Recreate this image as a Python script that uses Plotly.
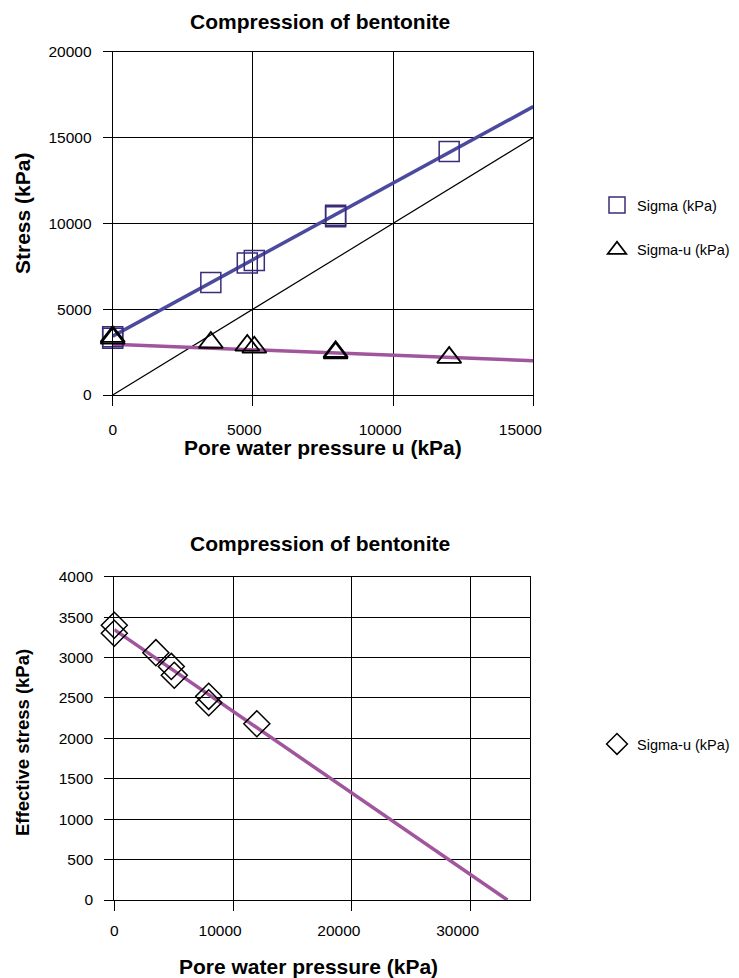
import plotly.graph_objects as go

# ---- data ----
u_kpa = [0, 0, 3500, 4800, 5050, 7950, 7950, 12000]
sigma_kpa = [3400, 3300, 6560, 7690, 7830, 10470, 10390, 14180]
sigma_minus_u_kpa = [3400, 3300, 3060, 2890, 2780, 2520, 2440, 2180]

# trend lines (end points)
trend_u_top = [0, 15000]
trend_sigma_top = [3430, 16800]
trend_sigma_u_top = [2950, 2000]
ref_line_u = [0, 15000]          # sigma = u reference line
trend_u_bottom = [0, 33100]
trend_eff_bottom = [3345, 0]

top_x_ticks = [0, 5000, 10000, 15000]
top_y_ticks = [0, 5000, 10000, 15000, 20000]
bot_x_ticks = [0, 10000, 20000, 30000]
bot_y_ticks = [0, 500, 1000, 1500, 2000, 2500, 3000, 3500, 4000]

title_text = "Compression of bentonite"

# page has an 8px body margin: figure drawn 8px in from the window corner
OFF = 8
W, H = 739 - OFF, 978 - OFF
FONT = "Liberation Sans, Arial, sans-serif"

BLUE_LINE = "#4B4A9E"
SQUARE = "#3B2C7A"
MAGENTA = "#A1559D"


def px(x):
    return (x - OFF) / W


def py(y):
    return 1 - (y - OFF) / H


def xlabels(vals):
    # labels sit right-aligned against the tick in the reference
    out = []
    for v in vals:
        s = str(v)
        pad = {1: 0, 4: 4, 5: 6}.get(len(s), 0)
        out.append(s + "\u00a0" * pad)
    return out


fig = go.Figure()

# ---- top chart ----
fig.add_trace(go.Scatter(x=trend_u_top, y=trend_sigma_top, mode="lines",
                         line=dict(color=BLUE_LINE, width=3.5), showlegend=False,
                         xaxis="x", yaxis="y", hoverinfo="skip"))
fig.add_trace(go.Scatter(x=ref_line_u, y=ref_line_u, mode="lines",
                         line=dict(color="black", width=1.2), showlegend=False,
                         xaxis="x", yaxis="y", hoverinfo="skip"))
fig.add_trace(go.Scatter(x=trend_u_top, y=trend_sigma_u_top, mode="lines",
                         line=dict(color=MAGENTA, width=3.5), showlegend=False,
                         xaxis="x", yaxis="y", hoverinfo="skip"))
fig.add_trace(go.Scatter(x=u_kpa, y=sigma_kpa, mode="markers", name="Sigma (kPa)",
                         marker=dict(symbol="square-open", size=20, color=SQUARE,
                                     line=dict(width=1.5, color=SQUARE)),
                         cliponaxis=False, xaxis="x", yaxis="y",
                         legend="legend", legendgroup="a"))
fig.add_trace(go.Scatter(x=u_kpa, y=sigma_minus_u_kpa, mode="markers", name="Sigma-u (kPa)",
                         marker=dict(symbol="triangle-up-open", size=21, color="black",
                                     line=dict(width=1.8, color="black")),
                         cliponaxis=False, xaxis="x", yaxis="y",
                         legend="legend", legendgroup="b"))

# ---- bottom chart ----
fig.add_trace(go.Scatter(x=trend_u_bottom, y=trend_eff_bottom, mode="lines",
                         line=dict(color=MAGENTA, width=3.5), showlegend=False,
                         xaxis="x2", yaxis="y2", hoverinfo="skip"))
fig.add_trace(go.Scatter(x=u_kpa, y=sigma_minus_u_kpa, mode="markers", name="Sigma-u (kPa)",
                         marker=dict(symbol="diamond-open", size=20, color="black",
                                     line=dict(width=1.5, color="black")),
                         cliponaxis=False, xaxis="x2", yaxis="y2",
                         legend="legend2"))

axis_common = dict(showgrid=True, gridcolor="black", gridwidth=1,
                   showline=True, linecolor="black", linewidth=1, mirror=True,
                   ticks="outside", ticklen=9, tickcolor="black", tickwidth=1,
                   zeroline=False, tickfont=dict(family=FONT, size=15.5, color="black"),
                   fixedrange=True, tickformat="d", automargin=False)

top_x0, top_x1, top_y0, top_y1 = 112.7, 533.3, 51.7, 395.0
bot_x0, bot_x1, bot_y0, bot_y1 = 114.3, 530.0, 576.7, 900.0

fig.update_layout(
    width=W, height=H,
    margin=dict(l=0, r=0, t=0, b=0),
    paper_bgcolor="white", plot_bgcolor="white",
    template="none",
    font=dict(family=FONT, size=15, color="black"),
    xaxis=dict(axis_common, domain=[px(top_x0), px(top_x1)], range=[0, 15000],
               tickvals=top_x_ticks, ticktext=xlabels(top_x_ticks),
               anchor="y", ticklen=10, ticklabelstandoff=10),
    yaxis=dict(axis_common, domain=[py(top_y1), py(top_y0)], range=[0, 20000],
               tickvals=top_y_ticks, anchor="x", ticklabelstandoff=8),
    xaxis2=dict(axis_common, domain=[px(bot_x0), px(bot_x1)], range=[0, 35000],
                tickvals=bot_x_ticks, ticktext=xlabels(bot_x_ticks),
                anchor="y2", ticklen=10, ticklabelstandoff=6),
    yaxis2=dict(axis_common, domain=[py(bot_y1), py(bot_y0)], range=[0, 4000],
                tickvals=bot_y_ticks, anchor="x2", ticklabelstandoff=8),
    legend=dict(x=px(597), y=py(189), xanchor="left", yanchor="top",
                font=dict(family=FONT, size=14.5, color="black"),
                bgcolor="rgba(0,0,0,0)", tracegroupgap=23, itemsizing="trace"),
    legend2=dict(x=px(597), y=py(728), xanchor="left", yanchor="top",
                 font=dict(family=FONT, size=14.5, color="black"),
                 bgcolor="rgba(0,0,0,0)", itemsizing="trace"),
    showlegend=True,
)

annotations = [
    dict(text="<b>" + title_text + "</b>", x=px(320), y=1.0, size=21, yanchor="top"),
    dict(text="<b>" + title_text + "</b>", x=px(320), y=py(543), size=21),
    dict(text="<b>Pore water pressure u (kPa)</b>", x=px(323), y=py(448), size=21),
    dict(text="<b>Pore water pressure (kPa)</b>", x=px(308.5), y=py(966), size=21),
    dict(text="<b>Stress (kPa)</b>", x=px(22), y=py(214), size=21, textangle=-90),
    dict(text="<b>Effective stress (kPa)</b>", x=px(22), y=py(743), size=18.5, textangle=-90),
]
for a in annotations:
    size = a.pop("size")
    ya = a.pop("yanchor", "middle")
    a.update(xref="paper", yref="paper", xanchor="center", yanchor=ya,
             showarrow=False, font=dict(family=FONT, size=size, color="black"))
fig.update_layout(annotations=annotations)

fig.write_html("out.html")
